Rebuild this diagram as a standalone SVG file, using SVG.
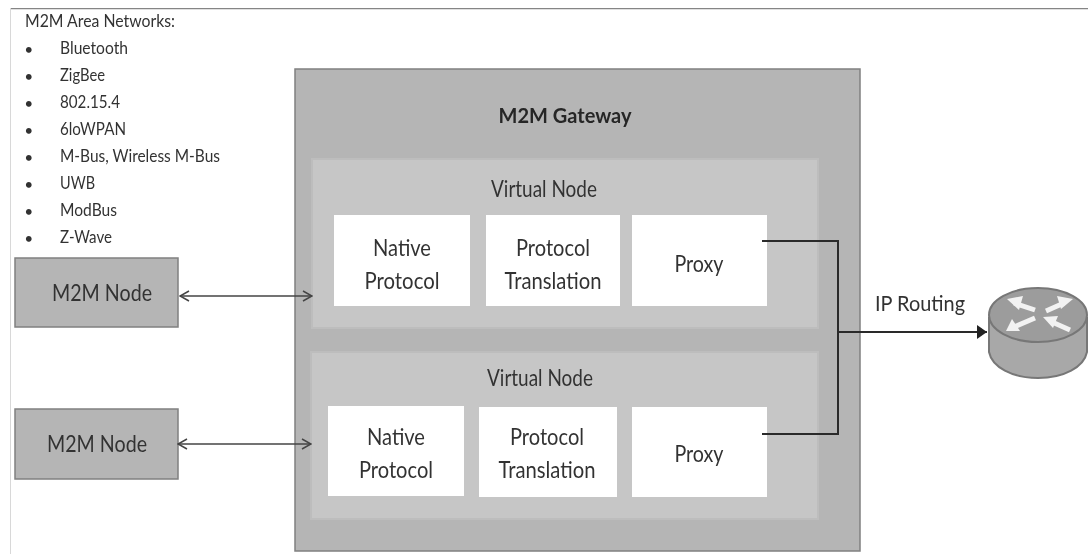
<svg xmlns="http://www.w3.org/2000/svg" width="1088" height="554" viewBox="0 0 1088 554">
<style>
text{font-family:Lato,"Noto Sans","Liberation Sans",sans-serif;fill:#333}
.l{font-size:17px}
.d{font-size:13px;font-weight:700}
.n{font-size:23.500px;text-anchor:middle}
.b{fill:#b5b5b5;stroke:#808080;stroke-width:1.500}
.v{fill:#c6c6c6;stroke:#bdbdbd;stroke-width:2}
.w{fill:#fff}
.c{fill:none;stroke:#444;stroke-width:1.600}
.k{fill:none;stroke:#2a2a2a;stroke-width:2}
</style>
<defs>
<filter id="soft" x="0" y="0" width="100%" height="100%"><feGaussianBlur stdDeviation="0.450"/></filter>
<marker id="o" viewBox="0 0 12 12" refX="11" refY="6" markerWidth="12" markerHeight="12" orient="auto-start-reverse" markerUnits="userSpaceOnUse"><path d="M2 1L11 6L2 11" fill="none" stroke="#444" stroke-width="1.500"/></marker>
<marker id="f" viewBox="0 0 12 14" refX="11" refY="7" markerWidth="12" markerHeight="14" orient="auto" markerUnits="userSpaceOnUse"><path d="M1 0L11 7L1 14Z" fill="#222"/></marker>
</defs>
<rect width="1088" height="554" fill="#fff"/>
<g filter="url(#soft)">
<path d="M11 8.500H1088" stroke="#858585" stroke-width="1.500" fill="none"/>
<path d="M10.500 8V554" stroke="#d8d8d8" stroke-width="1" fill="none"/>
<g id="area-networks">
<text class="l" x="25" y="27" textLength="150" lengthAdjust="spacingAndGlyphs">M2M Area Networks:</text>
<text class="d" x="25" y="54">•</text><text class="l" x="60" y="54" textLength="68" lengthAdjust="spacingAndGlyphs">Bluetooth</text>
<text class="d" x="25" y="81">•</text><text class="l" x="60" y="81" textLength="45" lengthAdjust="spacingAndGlyphs">ZigBee</text>
<text class="d" x="25" y="108">•</text><text class="l" x="60" y="108" textLength="60" lengthAdjust="spacingAndGlyphs">802.15.4</text>
<text class="d" x="25" y="135">•</text><text class="l" x="60" y="135" textLength="66" lengthAdjust="spacingAndGlyphs">6loWPAN</text>
<text class="d" x="25" y="162">•</text><text class="l" x="60" y="162" textLength="160" lengthAdjust="spacingAndGlyphs">M-Bus, Wireless M-Bus</text>
<text class="d" x="25" y="189">•</text><text class="l" x="60" y="189" textLength="35" lengthAdjust="spacingAndGlyphs">UWB</text>
<text class="d" x="25" y="216">•</text><text class="l" x="60" y="216" textLength="57" lengthAdjust="spacingAndGlyphs">ModBus</text>
<text class="d" x="25" y="243">•</text><text class="l" x="60" y="243" textLength="52" lengthAdjust="spacingAndGlyphs">Z-Wave</text>
</g>
<g id="gateway">
<rect class="b" x="295" y="69" width="565" height="482"/>
<text x="565" y="123" textLength="133" lengthAdjust="spacingAndGlyphs" style="font-size:21px;font-weight:700;text-anchor:middle;fill:#262626">M2M Gateway</text>
</g>
<g id="virtual-node-1">
<rect class="v" x="312" y="159" width="506" height="169"/>
<text class="n" x="544" y="197" textLength="106" lengthAdjust="spacingAndGlyphs">Virtual Node</text>
</g>
<g id="native-1"><rect class="w" x="334" y="215" width="136" height="91"/><text class="n" x="402" y="256" textLength="58" lengthAdjust="spacingAndGlyphs">Native</text><text class="n" x="402" y="289" textLength="75" lengthAdjust="spacingAndGlyphs">Protocol</text></g>
<g id="translation-1"><rect class="w" x="486" y="215" width="134" height="91"/><text class="n" x="553" y="256" textLength="74" lengthAdjust="spacingAndGlyphs">Protocol</text><text class="n" x="553" y="289" textLength="97" lengthAdjust="spacingAndGlyphs">Translation</text></g>
<g id="proxy-1"><rect class="w" x="632" y="215" width="135" height="91"/><text class="n" x="699" y="272" textLength="49" lengthAdjust="spacingAndGlyphs">Proxy</text></g>
<g id="virtual-node-2">
<rect class="v" x="311" y="352" width="507" height="167"/>
<text class="n" x="540" y="386" textLength="106" lengthAdjust="spacingAndGlyphs">Virtual Node</text>
</g>
<g id="native-2"><rect class="w" x="328" y="406" width="136" height="90"/><text class="n" x="396" y="445" textLength="58" lengthAdjust="spacingAndGlyphs">Native</text><text class="n" x="396" y="478" textLength="74" lengthAdjust="spacingAndGlyphs">Protocol</text></g>
<g id="translation-2"><rect class="w" x="479" y="407" width="138" height="90"/><text class="n" x="547" y="445" textLength="74" lengthAdjust="spacingAndGlyphs">Protocol</text><text class="n" x="547" y="478" textLength="97" lengthAdjust="spacingAndGlyphs">Translation</text></g>
<g id="proxy-2"><rect class="w" x="632" y="407" width="135" height="90"/><text class="n" x="699" y="462" textLength="49" lengthAdjust="spacingAndGlyphs">Proxy</text></g>
<g id="node-1"><rect class="b" x="15" y="258" width="163" height="69"/><text class="n" x="102" y="301" textLength="100" lengthAdjust="spacingAndGlyphs">M2M Node</text></g>
<g id="node-2"><rect class="b" x="15" y="409" width="163" height="70"/><text class="n" x="97" y="452" textLength="100" lengthAdjust="spacingAndGlyphs">M2M Node</text></g>
<g id="connectors">
<path class="c" d="M180 296H312" marker-start="url(#o)" marker-end="url(#o)"/>
<path class="c" d="M178 444H311" marker-start="url(#o)" marker-end="url(#o)"/>
<path class="k" d="M762 241H838V434H762"/>
<path class="k" d="M838 332H987" marker-end="url(#f)"/>
</g>
<text id="ip-routing" x="875" y="311" textLength="90" lengthAdjust="spacingAndGlyphs" style="font-size:22px">IP Routing</text>
<g id="router">
<path d="M989 318V352C992 367 1012 378 1038 378C1064 378 1084 367 1087 352V318Z" fill="#a8a8a8" stroke="#777" stroke-width="2"/>
<ellipse cx="1038" cy="315" rx="49" ry="27" fill="#9c9c9c" stroke="#777" stroke-width="2"/>
<g fill="none" stroke="#f2f2f2" stroke-width="5">
<path d="M1014 303L1035 310"/><path d="M1046 311L1064 303"/><path d="M1014 327L1035 318"/><path d="M1052 322L1070 330"/>
</g>
<g fill="#f2f2f2">
<path d="M1007 299L1023 296L1019 310Z"/><path d="M1073 299L1057 296L1061 309Z"/><path d="M1006 331L1012 319L1020 331Z"/><path d="M1043 317L1058 316L1053 328Z"/>
</g>
</g>
</g>
</svg>
